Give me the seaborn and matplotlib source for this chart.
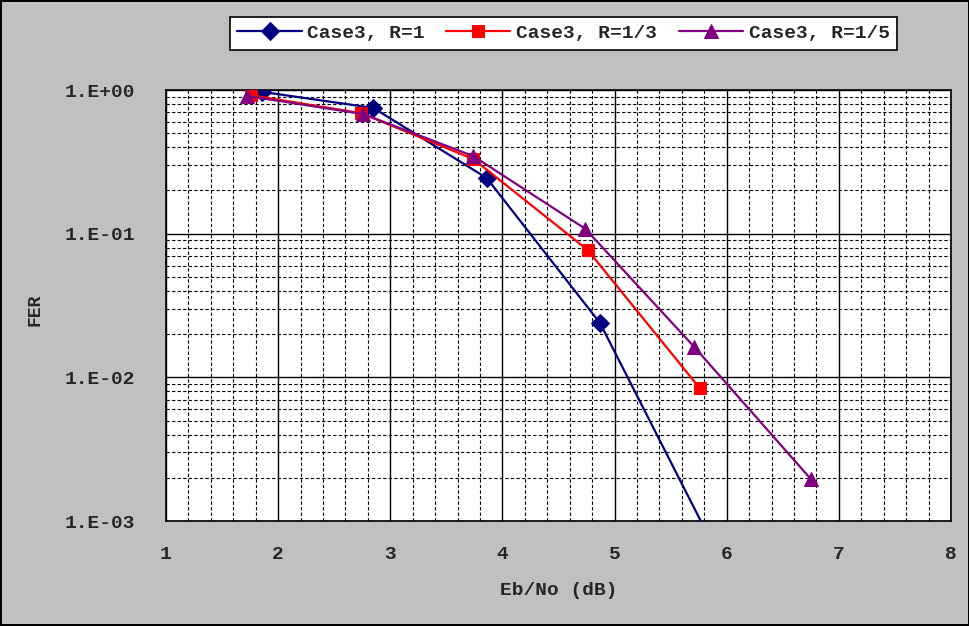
import numpy as np
import pandas as pd
import matplotlib
matplotlib.use("Agg")
import matplotlib.pyplot as plt
import matplotlib.ticker as mticker
import seaborn as sns

# data
r1_x = [1.86, 2.85, 3.86, 4.87, 5.87]
r1_y = [0.97, 0.75, 0.244, 0.0239, 0.0007]

r3_x = [1.76, 2.74, 3.74, 4.76, 5.76]
r3_y = [0.92, 0.69, 0.331, 0.077, 0.0084]

r5_x = [1.72, 2.76, 3.74, 4.74, 5.71, 6.75]
r5_y = [0.91, 0.68, 0.347, 0.108, 0.0163, 0.00196]

series_names = ["Case3, R=1", "Case3, R=1/3", "Case3, R=1/5"]
y_ticks = [1e-3, 1e-2, 1e-1, 1e0]
y_tick_labels = ["1.E-03", "1.E-02", "1.E-01", "1.E+00"]
x_ticks = [1, 2, 3, 4, 5, 6, 7, 8]

sns.set_style("white")
plt.rcParams["font.family"] = ["Liberation Mono", "DejaVu Sans Mono"]
plt.rcParams["font.weight"] = "bold"

fig = plt.figure(figsize=(9.7, 6.26), dpi=100)
fig.patch.set_facecolor("#C0C0C0")
fig.patch.set_edgecolor("black")
fig.patch.set_linewidth(1.5)

ax = fig.add_axes([0.1711, 0.1677, 0.8093, 0.6885])
ax.set_facecolor("white")

colors = ["#000080", "#FF0000", "#800080"]
markers = ["D", "s", "^"]
sizes = [9, 9, 10]

for (xs, ys), name, c, m, s in zip(
    [(r1_x, r1_y), (r3_x, r3_y), (r5_x, r5_y)],
    series_names, colors, markers, sizes
):
    sns.lineplot(
        x=xs,
        y=ys,
        ax=ax,
        color=c,
        marker=m,
        markersize=s,
        markeredgecolor=c,
        linewidth=1.6,
        label=name,
        sort=False,
        zorder=5,
    )

ax.set_yscale("log")
ax.set_xlim(1, 8)
ax.set_ylim(1e-3, 1)

ax.xaxis.set_major_locator(mticker.FixedLocator(x_ticks))
ax.xaxis.set_minor_locator(mticker.MultipleLocator(0.2))
ax.yaxis.set_major_locator(mticker.FixedLocator(y_ticks))
ax.yaxis.set_major_formatter(mticker.FixedFormatter(y_tick_labels))
ax.yaxis.set_minor_locator(mticker.LogLocator(base=10, subs=np.arange(2, 10)))
ax.yaxis.set_minor_formatter(mticker.NullFormatter())

ax.grid(True, which="major", color="black", linewidth=1.0, linestyle="-")
ax.grid(True, which="minor", color="black", linewidth=0.8, linestyle=(0, (3, 2)))
ax.set_axisbelow(True)

ax.tick_params(axis="both", which="both", direction="in", length=4,
               color="black", labelsize=14)
ax.tick_params(axis="x", which="major", pad=18)
ax.tick_params(axis="y", which="major", pad=22)
for lab in ax.get_xticklabels() + ax.get_yticklabels():
    lab.set_fontweight("bold")

for sp in ax.spines.values():
    sp.set_color("black")
    sp.set_linewidth(1.2)

ax.set_xlabel("Eb/No (dB)", fontsize=14, fontweight="bold", labelpad=14)
ax.set_ylabel("FER", fontsize=13, fontweight="bold")
ax.yaxis.set_label_coords(-0.156, 0.49)

ax.legend_.remove()
handles, labels = ax.get_legend_handles_labels()
leg = fig.legend(
    handles, labels,
    loc="center",
    bbox_to_anchor=(0.581, 0.947),
    ncol=3,
    frameon=True,
    fancybox=False,
    edgecolor="black",
    framealpha=1,
    handlelength=3.3,
    handletextpad=0.3,
    columnspacing=1.1,
    borderpad=0.4,
    prop={"weight": "bold", "size": 14},
)
leg.get_frame().set_linewidth(1.2)

plt.savefig("out.png", dpi=100, facecolor=fig.get_facecolor(),
            edgecolor=fig.get_edgecolor())
plt.close()
